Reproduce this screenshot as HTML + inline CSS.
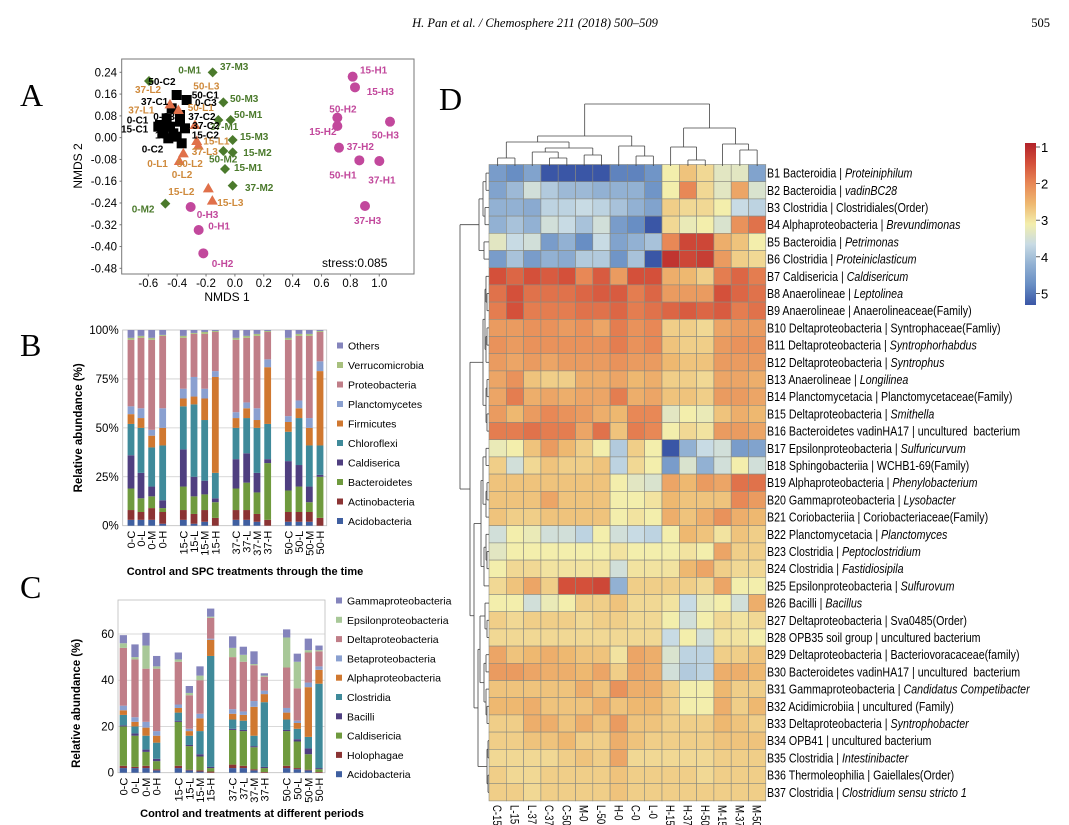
<!DOCTYPE html>
<html><head><meta charset="utf-8"><style>
html,body{margin:0;padding:0;background:#fff;}
svg{display:block;font-family:"Liberation Sans",sans-serif;}
</style></head><body>
<svg id="s" width="1069" height="825" viewBox="0 0 1069 825" xmlns="http://www.w3.org/2000/svg">
<text x="535" y="27" text-anchor="middle" font-family="Liberation Serif" font-style="italic" font-size="12.5">H. Pan et al. / Chemosphere 211 (2018) 500–509</text>
<text x="1050" y="27" text-anchor="end" font-family="Liberation Serif" font-size="12.5">505</text>
<text x="20" y="106" font-family="Liberation Serif" font-size="32">A</text>
<text x="20" y="356" font-family="Liberation Serif" font-size="32">B</text>
<text x="20" y="598" font-family="Liberation Serif" font-size="32">C</text>
<text x="439" y="110" font-family="Liberation Serif" font-size="32">D</text>
<g id="g"></g>
</svg>
<script>
var NS="http://www.w3.org/2000/svg",G=document.getElementById('g'),out=[];
function add(s){out.push(s);}
function R(x,y,w,h,f,ex){add('<rect x="'+x.toFixed(2)+'" y="'+y.toFixed(2)+'" width="'+w.toFixed(2)+'" height="'+h.toFixed(2)+'" fill="'+f+'" '+(ex||'')+'/>');}
function T(x,y,t,ex){add('<text x="'+x.toFixed(1)+'" y="'+y.toFixed(1)+'" '+(ex||'')+'>'+t+'</text>');}
function L(x1,y1,x2,y2,c,w){add('<line x1="'+x1.toFixed(2)+'" y1="'+y1.toFixed(2)+'" x2="'+x2.toFixed(2)+'" y2="'+y2.toFixed(2)+'" stroke="'+(c||'#000')+'" stroke-width="'+(w||1)+'"/>');}

/* ===== Panel A ===== */
(function(){
var ox=60,oy=55;function X(z){return ox+z/3;}function Y(z){return oy+z/3;}
R(121.7,59,292.3,215,'#fff','stroke="#777" stroke-width="1"');
var yt=['0.24','0.16','0.08','0.00','-0.08','-0.16','-0.24','-0.32','-0.40','-0.48'];
for(var i=0;i<10;i++){var y=72.3+i*21.78;T(117,y+4,yt[i],'text-anchor="end" font-size="11.5"');L(119.5,y,121.7,y,'#777',1);}
var xt=['-0.6','-0.4','-0.2','0.0','0.2','0.4','0.6','0.8','1.0'];
for(var i=0;i<9;i++){var x=148.3+i*28.87;T(x,287,xt[i],'text-anchor="middle" font-size="11.5"');L(x,274,x,276.5,'#777',1);}
T(227,301,'NMDS 1','text-anchor="middle" font-size="12"');
T(0,0,'NMDS 2','text-anchor="middle" font-size="12" transform="translate(82,166) rotate(-90)"');
T(322,267,'stress:0.085','font-size="12"');
var M='#c2489c',Gr='#4b7a2c',O='#e0704a',OL='#cf8a3c';
[[350,120],[380,135],[335,160],[320,190],[300,210],[330,215],[360,200],[310,235],[350,245],[365,265],[375,220],[295,215],[360,180],[340,235],[325,250]].forEach(function(p){R(X(p[0])-5,Y(p[1])-5,10,10,'#000');});
[[330,148],[355,165],[405,210],[410,258],[370,295],[358,318],[445,400],[457,437],[415,272]].forEach(function(p){var x=X(p[0]),y=Y(p[1]);add('<polygon points="'+x+','+(y-5.5)+' '+(x-5.5)+','+(y+4)+' '+(x+5.5)+','+(y+4)+'" fill="'+O+'"/>');});
[[267,78],[458,52],[490,142],[512,195],[475,195],[518,255],[490,288],[518,292],[495,342],[518,392],[316,446]].forEach(function(p){var x=X(p[0]),y=Y(p[1]);add('<polygon points="'+x+','+(y-5)+' '+(x+5)+','+y+' '+x+','+(y+5)+' '+(x-5)+','+y+'" fill="'+Gr+'"/>');});
[[878,65],[885,97],[832,188],[832,213],[990,200],[837,278],[898,316],[958,318],[915,453],[392,456],[416,525],[430,595]].forEach(function(p){add('<circle cx="'+X(p[0])+'" cy="'+Y(p[1])+'" r="5" fill="'+M+'"/>');});
var labs=[
['15-H1',900,45,M],['15-H3',920,110,M],['50-H2',808,162,M],['15-H2',748,230,M],['50-H3',935,240,M],['37-H2',860,274,M],['50-H1',808,360,M],['37-H1',925,375,M],['37-H3',882,497,M],['0-H3',410,478,M],['0-H1',445,513,M],['0-H2',455,625,M],
['0-M1',355,45,Gr],['37-M3',480,35,Gr],['50-M3',510,130,Gr],['50-M1',522,178,Gr],['37-M1',450,215,Gr],['15-M3',540,245,Gr],['15-M2',550,293,Gr],['50-M2',447,312,Gr],['15-M1',522,338,Gr],['37-M2',555,398,Gr],['0-M2',215,462,Gr],
['37-L2',225,103,OL],['37-L1',205,165,OL],['50-L3',400,93,OL],['50-L1',383,157,OL],['15-L1',430,258,OL],['37-L3',395,290,OL],['0-L1',262,325,OL],['50-L2',350,325,OL],['0-L2',335,358,OL],['15-L2',325,410,OL],['15-L3',472,443,OL],
['50-C2',265,80,'#000'],['50-C1',395,120,'#000'],['0-C3',405,143,'#000'],['37-C1',243,140,'#000'],['0-C1',200,195,'#000'],['0-C3',280,185,'#000'],['37-C2',385,185,'#000'],['15-C1',183,222,'#000'],['15-C',285,240,'#000'],['15-C2',395,240,'#000'],['0-C2',245,282,'#000'],['37-C2',397,212,'#000']];
labs.forEach(function(l){T(X(l[1]),Y(l[2])+3.5,l[0],'font-size="10" font-weight="bold" fill="'+l[3]+'"');});
})();

function bars(cfg){
  var top=cfg.top,bot=cfg.bot,max=cfg.max;
  function Y(v){return bot-(v/max)*(bot-top);}
  R(cfg.left,cfg.ptop,cfg.right-cfg.left,bot-cfg.ptop,'#fff','stroke="#bbb" stroke-width="0.8"');
  cfg.grid.forEach(function(v){L(cfg.left,Y(v),cfg.right,Y(v),'#ccc',0.8);});
  cfg.ticks.forEach(function(t){T(cfg.left-4,Y(t[0])+4,t[1],'text-anchor="end" font-size="11.5"');});
  cfg.data.forEach(function(d,i){
    var x=cfg.xs[i]-cfg.bw/2,prev=0;
    d.forEach(function(v,k){R(x,Y(v),cfg.bw,Y(prev)-Y(v),cfg.cols[k]);prev=v;});
    T(0,0,cfg.names[i],'text-anchor="end" font-size="11" transform="translate('+(cfg.xs[i]+4)+','+(bot+5)+') rotate(-90)"');
  });
  cfg.legend.forEach(function(n,k){var y=cfg.ly0+k*cfg.ldy;var c=cfg.cols[cfg.legend.length-1-k];R(cfg.lx,y-3.5,6,6,c);T(cfg.lx+11,y+3.5,n,'font-size="10.5"');});
  T(cfg.tx,cfg.ty,cfg.title,'text-anchor="middle" font-size="11" font-weight="bold"');
  T(0,0,'Relative abundance (%)','text-anchor="middle" font-size="11.5" font-weight="bold" transform="translate('+cfg.yx+','+((top+bot)/2)+') rotate(-90)"');
}
var names=['0-C','0-L','0-M','0-H','15-C','15-L','15-M','15-H','37-C','37-L','37-M','37-H','50-C','50-L','50-M','50-H'];
var bz=[183,213,245,278,340,372,404,436,498,530,561,593,655,687,718,750].map(function(z){return 70+z/3;});
bars({left:122.7,right:326.7,ptop:330,top:330,bot:525.7,max:100,grid:[25,50,75],
ticks:[[0,'0%'],[25,'25%'],[50,'50%'],[75,'75%'],[100,'100%']],xs:bz,bw:6.8,names:names,
cols:['#3f5fa0','#8b3434','#6f9a3e','#4f3f80','#3f8a9a','#d07830','#8aa0d0','#c07e88','#a8c07e','#8484bc'],
data:[[3,8,19,36,52,57,61,95,96,100],[3,7,14,27,50,55,60,96,97,100],[3,9,15,20,40,46,49,95,96,100],[1,7,9,13,41,50,60,97,97.5,100],
[3,8,20,39,61,65,70,96,97,100],[1,6,15,25,62,66,76,98,98.5,100],[2,8,16,23,54,65,70,98,99,100],[0,4,12,14,27,76,79,99,99.5,100],
[3,8,19,34,50,55,58,95,96,100],[3,8,22,37,55,60,63,96,97,100],[2,6,17,27,50,54,60,97,98,100],[0,3,32,34,52,81,85,99,99.5,100],
[2,7,18,33,48,53,56,95,96,100],[2,7,20,31,55,60,64,97,98,100],[2,7,12,20,41,50,55,97,98,100],[0,4,25,26,41,79,84,99,99.5,100]],
legend:['Others','Verrucomicrobia','Proteobacteria','Planctomycetes','Firmicutes','Chloroflexi','Caldiserica','Bacteroidetes','Actinobacteria','Acidobacteria'],
lx:337,ly0:346,ldy:19.5,tx:245,ty:575,title:'Control and SPC treatments through the time',yx:82});
var cz=[160,195,228,260,325,358,390,422,488,520,552,583,650,682,715,747].map(function(z){return 70+z/3;});
bars({left:118,right:325,ptop:600,top:634,bot:772.7,max:60,grid:[20,40,60],
ticks:[[0,'0'],[20,'20'],[40,'40'],[60,'60']],xs:cz,bw:7.3,names:names,
cols:['#3f5fa0','#8b3434','#6f9a3e','#4f3f80','#3f8a9a','#d07830','#8aa0d0','#c07e88','#a8c898','#8484bc'],
data:[[2,3,20,20.5,25,27,29,54,56,59.5],[2,2.5,16,17,20,22,24,49,50,55.5],[2,3,9,10,16,19.5,22,45,55,60.5],[1,1.5,5,6,13,16,18,45,46,50.5],
[2,3,22,22.5,26,28,29.5,48,49,52],[1,1.3,11.5,12,16,18,19,33.5,34.5,37.5],[0.5,1,7,8,18,23.5,25.5,40,42,46],[0,0.5,2,2.5,50.5,57.5,58,67,67.5,71],
[2,3.5,18.5,19,23,25.5,27.5,50,54,59],[2,3,18,18.5,22.5,25,26.5,48,51,54.5],[1,1.5,11,11.5,16,28.5,31,46.5,47,52.5],[0,0.3,2,2.5,30.5,34,35.5,41.5,42,43],
[2,3,18,18.5,23,26,28,45.5,58.5,62],[1.5,2,13.5,14.5,19,21.5,22.5,36.5,48,51.5],[1,1.3,8,10.5,15.5,37,39,52,53,58],[0,0.3,1.5,2,38.5,44.5,46,52.5,53,55]],
legend:['Gammaproteobacteria','Epsilonproteobacteria','Deltaproteobacteria','Betaproteobacteria','Alphaproteobacteria','Clostridia','Bacilli','Caldisericia','Holophagae','Acidobacteria'],
lx:336,ly0:601,ldy:19.3,tx:252,ty:817,title:'Control and treatments at different periods',yx:80});

var stops=[[1,[178,34,42]],[1.5,[212,80,58]],[2,[232,136,86]],[2.5,[238,184,112]],[3,[243,238,172]],[3.5,[200,219,228]],[4,[146,177,211]],[4.5,[104,142,196]],[5,[58,86,166]]];
function col(v){if(v<=1)v=1;if(v>=5)v=5;for(var i=0;i<stops.length-1;i++){var a=stops[i],b=stops[i+1];if(v>=a[0]&&v<=b[0]){var t=(v-a[0])/(b[0]-a[0]);return 'rgb('+[0,1,2].map(function(k){return Math.round(a[1][k]+(b[1][k]-a[1][k])*t);}).join(',')+')';}}}
var H=[
[4.3,4.5,4.2,5,5,5,5,4.6,4.6,4.4,3.0,2.6,2.8,3.2,3.2,4.2],
[4.2,3.9,3.4,3.7,3.9,3.9,4.0,4.0,4.0,4.4,3.0,2.0,2.8,3.2,2.3,3.3],
[4.0,4.0,4.1,3.6,3.6,3.5,3.6,3.8,4.0,4.2,2.7,2.8,2.8,3.0,3.5,3.6],
[4.0,3.8,4.0,3.4,3.5,3.8,3.4,4.3,4.5,5,2.8,3.1,3.0,3.3,2.1,1.8],
[3.2,3.5,3.4,4.3,4.0,4.5,3.5,4.2,4.0,3.8,2.0,1.4,1.4,2.4,2.6,3.0],
[4.3,3.8,4.3,4.0,4.1,3.7,3.7,4.4,3.8,5,1.2,1.4,1.3,2.2,2.7,2.8],
[1.5,1.7,1.5,1.6,1.5,2.0,1.6,2.2,1.5,1.5,2.4,2.5,2.7,1.9,1.7,1.9],
[1.8,1.5,1.8,1.8,1.8,1.7,1.6,1.6,1.9,1.7,2.2,2.2,2.2,1.5,1.7,1.8],
[1.9,1.5,1.9,1.9,1.9,1.8,1.8,1.7,1.9,1.8,1.7,1.6,1.7,1.6,1.9,1.8],
[2.2,2.2,2.1,2.1,2.2,2.1,2.3,1.9,2.1,2.0,2.7,2.7,2.8,2.3,2.2,2.2],
[2.1,2.2,2.1,2.1,2.1,2.1,2.1,1.9,2.1,2.0,2.6,2.7,2.7,2.2,2.1,2.1],
[2.2,2.3,2.2,2.3,2.2,2.2,2.2,2.1,2.2,2.2,2.5,2.6,2.6,2.2,2.2,2.2],
[2.3,2.1,2.6,2.7,2.7,2.4,2.4,2.3,2.5,2.4,2.7,2.7,2.8,2.3,2.3,2.4],
[2.3,1.9,2.4,2.3,2.4,2.3,2.3,1.9,2.4,2.3,2.6,2.6,2.7,2.2,2.2,2.3],
[2.2,2.5,2.2,2.0,2.1,2.2,2.4,2.5,2.0,2.0,3.2,3.0,3.1,2.6,2.4,2.5],
[1.9,1.9,1.8,1.9,1.9,2.3,1.8,2.6,1.9,2.0,3.0,2.8,2.9,2.2,2.2,2.3],
[3.1,3.0,2.6,2.2,2.5,2.7,3.0,3.7,2.7,3.0,5,4.0,3.5,3.4,4.3,4.2],
[2.7,3.4,2.8,2.6,2.7,2.7,2.6,3.6,2.8,3.0,4.3,3.3,4.0,3.4,3.0,3.4],
[2.6,2.6,2.6,2.6,2.6,2.6,2.6,3.0,3.2,3.3,2.3,2.5,2.2,2.3,1.8,1.8],
[2.6,2.6,2.6,2.3,2.6,2.6,2.6,3.0,3.0,2.9,2.5,2.6,2.6,2.6,2.0,2.2],
[2.6,2.7,2.7,2.6,2.6,2.6,2.6,3.0,2.9,3.0,2.4,2.6,2.4,2.1,2.4,2.5],
[3.4,3.0,3.1,3.4,3.4,3.6,3.0,3.4,3.5,3.6,3.0,2.5,2.6,2.9,2.6,2.7],
[3.2,3.0,3.0,3.0,3.0,3.0,3.0,2.9,3.0,3.0,3.0,2.9,3.0,2.3,2.7,2.7],
[3.0,2.8,2.8,2.9,2.9,2.9,2.9,3.4,2.9,2.9,2.9,2.5,2.3,2.7,2.8,2.8],
[2.8,2.6,2.3,2.7,1.5,1.5,1.4,4.0,2.7,2.7,2.7,2.7,2.8,2.3,3.0,3.0],
[3.0,3.0,3.4,3.1,3.0,2.7,2.7,2.6,2.8,2.8,2.9,3.5,3.1,3.0,3.4,2.4],
[2.7,2.8,2.7,2.7,2.7,2.8,2.7,2.7,2.8,2.8,3.0,3.4,3.0,2.8,2.9,2.8],
[2.8,2.8,2.8,2.8,2.8,2.8,2.8,2.8,2.8,2.8,3.5,3.0,3.4,2.9,2.9,3.0],
[2.3,2.6,2.5,2.4,2.5,2.6,2.6,2.9,2.3,2.4,3.3,3.6,3.6,2.7,2.7,2.6],
[2.2,2.2,2.3,2.4,2.4,2.5,2.3,2.7,2.3,2.4,3.4,3.7,3.6,2.4,2.4,2.5],
[2.6,2.6,2.6,2.6,2.6,2.4,2.6,2.1,2.4,2.4,2.7,3.0,3.0,2.5,2.7,2.7],
[2.5,2.5,2.4,2.6,2.6,2.6,2.4,2.6,2.5,2.5,2.7,3.0,3.0,2.4,2.7,2.5],
[2.7,2.7,2.4,2.4,2.6,2.4,2.6,2.2,2.6,2.6,2.7,2.7,2.7,2.5,2.6,2.7],
[2.7,2.7,2.6,2.6,2.5,2.7,2.7,2.4,2.6,2.7,2.7,2.7,2.7,2.6,2.6,2.6],
[2.8,2.8,2.8,2.8,2.7,2.6,2.7,2.3,2.8,2.8,2.8,2.8,2.8,2.7,2.7,2.7],
[2.7,2.8,2.8,2.7,2.7,2.7,2.7,2.6,2.7,2.7,2.7,2.7,2.8,2.7,2.7,2.7],
[2.7,2.7,2.8,2.7,2.7,2.7,2.7,2.6,2.7,2.7,2.7,2.7,2.7,2.7,2.7,2.7]];
var gx=489,gy=164.5,cw=17.3,ch=17.2;
H.forEach(function(row,r){row.forEach(function(v,c){R(gx+c*cw,gy+r*ch,cw,ch,col(v),'stroke="#8a8a80" stroke-width="0.6"');});});
var cn=['C-15','L-15','L-37','C-37','C-50','M-0','L-50','H-0','C-0','L-0','H-15','H-37','H-50','M-15','M-37','M-50'];
cn.forEach(function(n,c){T(0,0,n,'font-size="12" transform="translate('+(gx+c*cw+cw/2-4.5)+',805) rotate(90) scale(0.8,1)"');});
var rl=[
['B1 Bacteroidia | ','Proteiniphilum'],['B2 Bacteroidia | ','vadinBC28'],['B3 Clostridia | Clostridiales(Order)',''],['B4 Alphaproteobacteria | ','Brevundimonas'],
['B5 Bacteroidia | ','Petrimonas'],['B6 Clostridia | ','Proteiniclasticum'],['B7 Caldisericia | ','Caldisericum'],['B8 Anaerolineae | ','Leptolinea'],
['B9 Anaerolineae | Anaerolineaceae(Family)',''],['B10 Deltaproteobacteria | Syntrophaceae(Famliy)',''],['B11 Deltaproteobacteria | ','Syntrophorhabdus'],['B12 Deltaproteobacteria | ','Syntrophus'],
['B13 Anaerolineae | ','Longilinea'],['B14 Planctomycetacia | Planctomycetaceae(Family)',''],['B15 Deltaproteobacteria | ','Smithella'],['B16 Bacteroidetes vadinHA17 | uncultured  bacterium',''],
['B17 Epsilonproteobacteria | ','Sulfuricurvum'],['B18 Sphingobacteriia | WCHB1-69(Family)',''],['B19 Alphaproteobacteria | ','Phenylobacterium'],['B20 Gammaproteobacteria | ','Lysobacter'],
['B21 Coriobacteriia | Coriobacteriaceae(Family)',''],['B22 Planctomycetacia | ','Planctomyces'],['B23 Clostridia | ','Peptoclostridium'],['B24 Clostridia | ','Fastidiosipila'],
['B25 Epsilonproteobacteria | ','Sulfurovum'],['B26 Bacilli | ','Bacillus'],['B27 Deltaproteobacteria | Sva0485(Order)',''],['B28 OPB35 soil group | uncultured bacterium',''],
['B29 Deltaproteobacteria | Bacteriovoracaceae(family)',''],['B30 Bacteroidetes vadinHA17 | uncultured  bacterium',''],['B31 Gammaproteobacteria | ','Candidatus Competibacter'],['B32 Acidimicrobiia | uncultured (Family)',''],
['B33 Deltaproteobacteria | ','Syntrophobacter'],['B34 OPB41 | uncultured bacterium',''],['B35 Clostridia | ','Intestinibacter'],['B36 Thermoleophilia | Gaiellales(Order)',''],
['B37 Clostridia | ','Clostridium sensu stricto 1']];
rl.forEach(function(l,r){var y=gy+r*ch+ch/2+4.5;add('<text font-size="13" xml:space="preserve" transform="translate(767,'+y.toFixed(1)+') scale(0.82,1)">'+l[0]+(l[1]?'<tspan font-style="italic">'+l[1]+'</tspan>':'')+'</text>');});

function dend(node,pos,base,dir){
  if(typeof node==='number')return {p:pos(node),h:0};
  var a=dend(node[0],pos,base,dir),b=dend(node[1],pos,base,dir),h=node[2];
  if(dir==='top'){var y=base-h;L(a.p,base-a.h,a.p,y,'#444',0.8);L(b.p,base-b.h,b.p,y,'#444',0.8);L(a.p,y,b.p,y,'#444',0.8);}
  else{var x=base-h;L(base-a.h,a.p,x,a.p,'#444',0.8);L(base-b.h,b.p,x,b.p,'#444',0.8);L(x,a.p,x,b.p,'#444',0.8);}
  return {p:(a.p+b.p)/2,h:h};
}
var topTree=[[[[0,1,8],[[2,[3,4,8],14],[5,6,11],18],24],[7,[8,9,10],20],30],[[10,[11,12,6],19],[13,[14,15,16],22],38],62];
dend(topTree,function(i){return gx+i*cw+cw/2;},166,'top');
var top6=[[[0,1,3],[2,3,4],6],[4,5,5],10];
var b716=[[[6,[7,8,2],3],[[9,10,2],11,3],4],[[12,13,2],[14,15,2],3],6];
var g3=[[[16,17,3],[[18,19,2],20,3],6],[[21,[22,23,2],3],24,5],8];
var g4=[[[25,[26,27,2],4],[[28,29,3],[30,[31,32,2],3],5],9],[[33,34,1],[35,36,1],2],11];
var lower=[g3,g4,15];
var leftTree=[top6,[b716,lower,19],29];
dend(leftTree,function(i){return gy+i*ch+ch/2;},489,'left');

add('<defs><linearGradient id="cb" x1="0" y1="0" x2="0" y2="1">'+stops.map(function(s){return '<stop offset="'+((s[0]-1)/4)+'" stop-color="rgb('+s[1].join(',')+')"/>';}).join('')+'</linearGradient></defs>');
R(1025,143,11,162,'url(#cb)');
for(var k=0;k<5;k++){var y=147+k*36.6;L(1036,y,1040,y,'#333',0.8);T(1041,y+5,String(k+1),'font-size="13"');}
G.innerHTML=out.join('');
</script>
</body></html>
